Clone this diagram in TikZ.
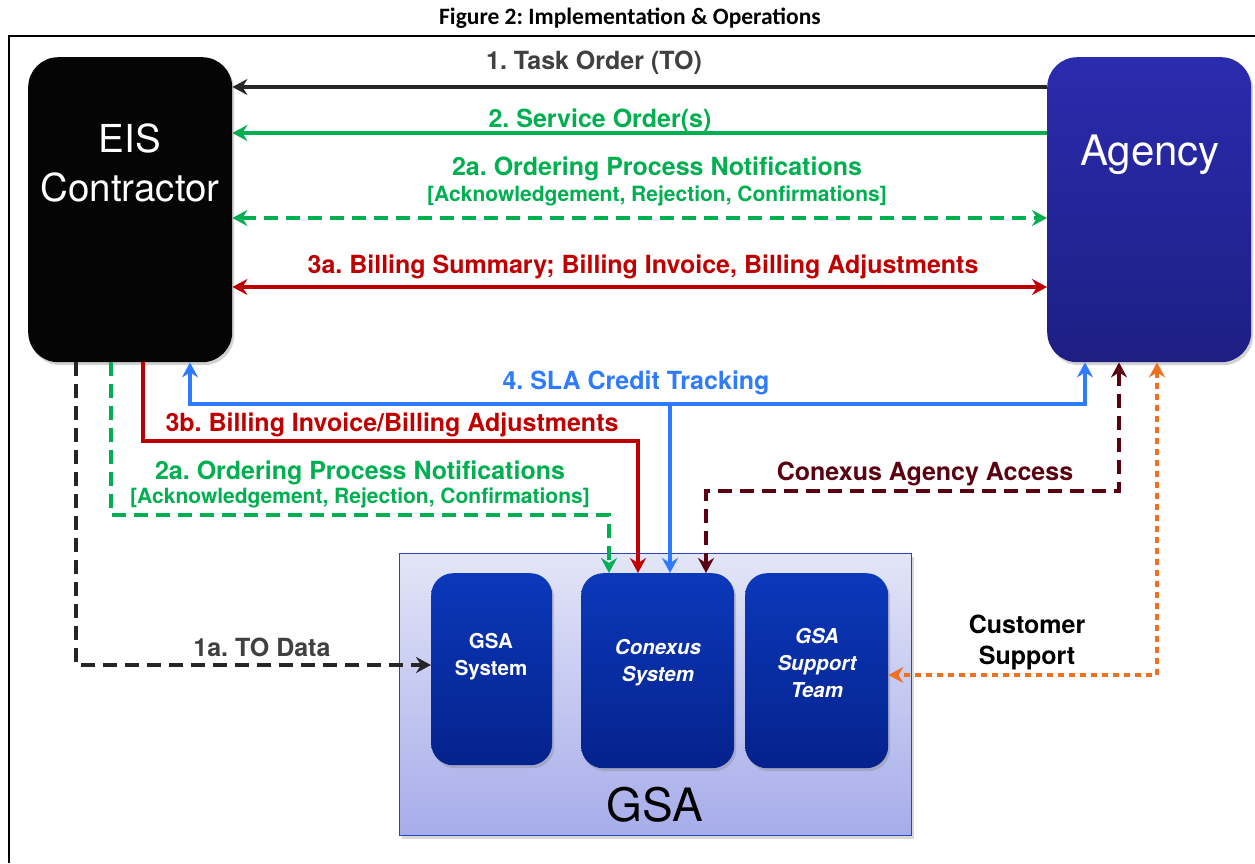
\documentclass[tikz,border=0pt]{standalone}
\usepackage{fontspec}
\setmainfont{TeX Gyre Heros}
\newfontfamily\titlefont{Carlito}
\usetikzlibrary{arrows.meta,shadows,calc}
\frenchspacing
\definecolor{cblack}{HTML}{262626}
\definecolor{cgreen}{HTML}{00B050}
\definecolor{cred}{HTML}{C00000}
\definecolor{cblue}{HTML}{2F7BFF}
\definecolor{cmaroon}{HTML}{5A0010}
\definecolor{corange}{HTML}{F07020}
\definecolor{cgray}{HTML}{404040}
\definecolor{agtop}{HTML}{2B2BAE}
\definecolor{agbot}{HTML}{1E1E84}
\definecolor{gsatop}{HTML}{E3E5F7}
\definecolor{gsabot}{HTML}{A6ACEA}
\definecolor{gsaedge}{HTML}{2A48B5}
\definecolor{intop}{HTML}{0B38BA}
\definecolor{inbot}{HTML}{05228C}
\tikzset{
  bigbox/.style={rounded corners=30pt, minimum width=204pt, minimum height=305pt, inner sep=0pt, anchor=north west,
    drop shadow={shadow xshift=2pt,shadow yshift=-3pt,opacity=0.35}},
  innerbox/.style={rounded corners=22pt, top color=intop, bottom color=inbot, inner sep=0pt, anchor=north west,
    drop shadow={shadow xshift=2pt,shadow yshift=-3pt,opacity=0.35}},
  lbl/.style={font=\bfseries\fontsize{25}{28}\selectfont, inner sep=0pt},
  sublbl/.style={font=\bfseries\fontsize{21}{24}\selectfont, inner sep=0pt},
  intext/.style={text=white, align=center, font=\bfseries\fontsize{20.5}{27}\selectfont},
  tip/.style={-{Stealth[length=15pt,width=16pt,inset=5pt]}},
  both/.style={{Stealth[length=15pt,width=16pt,inset=5pt]}-{Stealth[length=15pt,width=16pt,inset=5pt]}},
  conn/.style={line width=4.8pt},
  dashedline/.style={dash pattern=on 14pt off 8pt},
  dottedline/.style={dash pattern=on 6pt off 5pt},
}
\begin{document}
\begin{tikzpicture}[x=1pt,y=-1pt]
\useasboundingbox (0,0) rectangle (1255,863);
\fill[white] (0,0) rectangle (1255,863);

% title and frame
\node[font=\titlefont\bfseries\fontsize{23.5}{26}\selectfont] (title) at (630,18) {Figure 2: Implementation \& Operations};
\draw[line width=1.6pt] (9,863) -- (9,36) -- (1255,36);

% main boxes
\node[bigbox, fill=black!98] (eis) at (28,57) {};
\node[bigbox, top color=agtop, bottom color=agbot] (agency) at (1047,57) {};
\node[text=white, align=center, font=\fontsize{38.5}{49}\selectfont] (eistxt) at (130,163) {EIS\\Contractor};
\node[text=white, font=\fontsize{42}{48}\selectfont] (agtxt) at (1150,155) {Agency};

% GSA
\node[anchor=north west, minimum width=512pt, minimum height=282pt, inner sep=0pt, top color=gsatop, bottom color=gsabot,
  draw=gsaedge, line width=1pt, drop shadow={shadow xshift=2pt,shadow yshift=-3pt,opacity=0.3}] (gsa) at (399,553) {};
\node[innerbox, minimum width=121pt, minimum height=192pt] (gsasys) at (431,573) {};
\node[innerbox, minimum width=153pt, minimum height=195pt] (conexus) at (581,573) {};
\node[innerbox, minimum width=143pt, minimum height=195pt] (support) at (745,573) {};
\node[intext] (t1) at (491,657) {GSA\\System};
\node[intext, font=\bfseries\itshape\fontsize{20.5}{27}\selectfont] (t2) at (658,663) {Conexus\\System};
\node[intext, font=\bfseries\itshape\fontsize{20.5}{27}\selectfont] (t3) at (817,663) {GSA\\Support\\Team};
\node[font=\fontsize{46}{52}\selectfont] (gsatxt) at (655,805) {GSA};

% top connectors
\draw[conn, tip, cblack] (agency.west |- 0,87) -- (eis.east |- 0,87);
\draw[conn, tip, cgreen] (agency.west |- 0,133) -- (eis.east |- 0,133);
\draw[conn, both, cgreen, dashedline] (eis.east |- 0,218) -- (agency.west |- 0,218);
\draw[conn, both, cred] (eis.east |- 0,287) -- (agency.west |- 0,287);

\node[lbl, text=cgray] (l1) at (594,63) {1. Task Order (TO)};
\node[lbl, text=cgreen] (l2) at (600,121) {2. Service Order(s)};
\node[lbl, text=cgreen] (l2a) at (657,169) {2a. Ordering Process Notifications};
\node[sublbl, text=cgreen] (l2ab) at (657,196) {[Acknowledgement, Rejection, Confirmations]};
\node[lbl, text=cred] (l3a) at (643,267) {3a. Billing Summary; Billing Invoice, Billing Adjustments};

% lower connectors
\draw[conn, tip, cblack, dashedline] (eis.south -| 76,0) |- (gsasys.west |- 0,665);
\draw[conn, tip, cgreen, dashedline] (eis.south -| 111,0) |- (609,515) -- (conexus.north -| 609,0);
\draw[line width=4.2pt, tip, cred] (eis.south -| 143,0) |- (638,441) -- (conexus.north -| 638,0);
\coordinate (j4) at (670,404);
\draw[line width=4.2pt, tip, cblue] (j4) -| (eis.south -| 190,0);
\draw[line width=4.2pt, tip, cblue] (j4) -| (agency.south -| 1085,0);
\draw[line width=4.2pt, tip, cblue] (j4) -- (conexus.north -| 670,0);
\draw[conn, both, cmaroon, dashedline] (agency.south -| 1119,0) |- (706,491) -- (conexus.north -| 706,0);
\draw[conn, both, corange, dottedline] (agency.south -| 1157,0) |- (support.east |- 0,675);

\node[lbl, text=cblue] (l4) at (636,383) {4. SLA Credit Tracking};
\node[lbl, text=cred] (l3b) at (392,425) {3b. Billing Invoice/Billing Adjustments};
\node[lbl, text=cgreen] (l2c) at (360,473) {2a. Ordering Process Notifications};
\node[sublbl, text=cgreen] (l2d) at (360,498) {[Acknowledgement, Rejection, Confirmations]};
\node[lbl, text=cmaroon] (lca) at (925,474) {Conexus Agency Access};
\node[lbl, text=black, align=center, font=\bfseries\fontsize{25}{31}\selectfont] (lcs) at (1027,642) {Customer\\Support};
\node[lbl, text=cgray] (l1a) at (262,647) {1a. TO Data};
\end{tikzpicture}
\end{document}
